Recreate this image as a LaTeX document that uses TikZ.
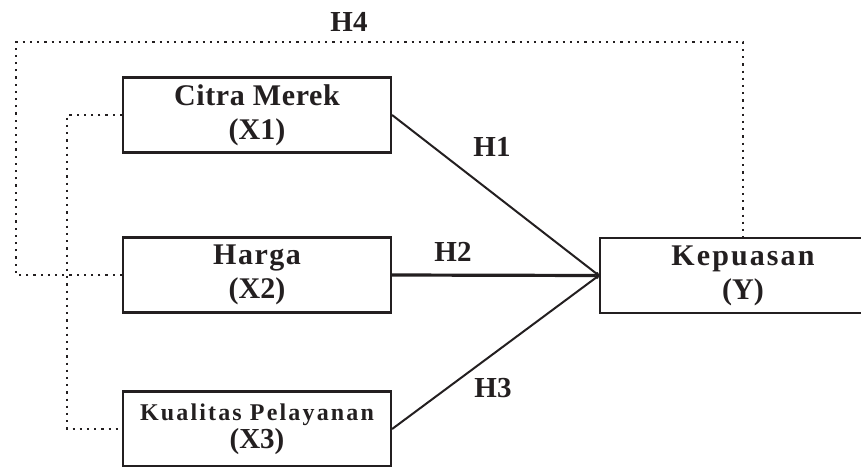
\documentclass[tikz,border=0pt]{standalone}
\usepackage{fontspec}
\setmainfont{Liberation Serif}
\usetikzlibrary{arrows.meta}
\definecolor{ink}{HTML}{231F20}
\tikzset{
  varbox/.style={draw=ink, line width=2.2pt, minimum width=268pt, minimum height=75pt,
    inner sep=0pt, align=center, text=ink, font=\bfseries\fontsize{30}{34}\selectfont},
  hlabel/.style={text=ink, inner sep=0pt, font=\bfseries\fontsize{29}{30}\selectfont},
  linkpath/.style={draw=ink, line width=2pt},
  dotpath/.style={draw=ink, line width=2.4pt, dash pattern=on 2.2pt off 5pt}
}
\begin{document}
\begin{tikzpicture}[x=1pt, y=-1pt]
    \useasboundingbox (0,0) rectangle (861,466);
    \clip (0,0) rectangle (861,466);

    \node[varbox] (citra) at (257,115) {\addfontfeatures{LetterSpace=2}Citra Merek\\(X1)};
    \node[varbox] (harga) at (257,275) {\addfontfeatures{LetterSpace=5}Harga\\(X2)};
    \node[varbox, font=\bfseries\fontsize{24}{28}\selectfont] (kualitas) at (257,429)
      {\addfontfeatures{LetterSpace=9}Kualitas Pelayanan\\\fontsize{29}{28}\selectfont(X3)};
    \node[varbox, minimum width=286pt, minimum height=75pt] (kepuasan) at (743,275.5)
      {\addfontfeatures{LetterSpace=7}Kepuasan\\(Y)};

    % direct paths
    \draw[linkpath, -{To[length=4pt,width=4pt]}] (citra.east) -- (kepuasan.west);
    \draw[linkpath, line width=3.2pt, -{To[length=4pt,width=4pt]}] (harga.east) -- (kepuasan.west);
    \draw[linkpath, -{To[length=4pt,width=4pt]}] (kualitas.east) -- (kepuasan.west);

    % simultaneous path
    \coordinate (c1) at (16,275);
    \coordinate (c2) at (16,42);
    \coordinate (c3) at (kepuasan.north |- c2);
    \draw[dotpath] (harga.west) -- (c1) -- (c2) -- (c3) -- (kepuasan.north);

    \coordinate (d1) at (67,115);
    \coordinate (d2) at (67,429);
    \draw[dotpath] (citra.west) -- (d1) -- (d2) -- (kualitas.west);

    \node[hlabel] (h4) at (349,22) {H4};
    \node[hlabel] (h1) at (492,147) {H1};
    \node[hlabel] (h2) at (453,252) {H2};
    \node[hlabel] (h3) at (493,388) {H3};
\end{tikzpicture}
\end{document}
